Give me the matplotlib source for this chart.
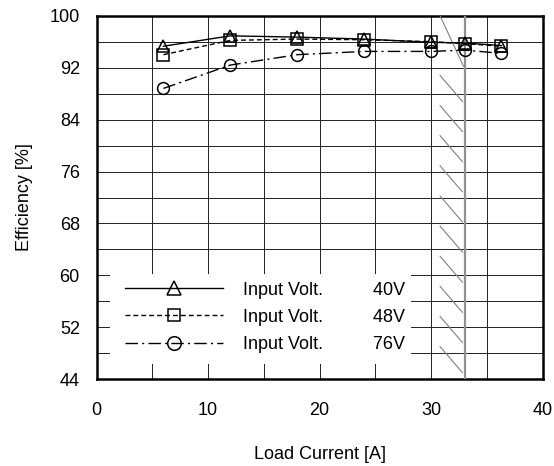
"""Efficiency vs load current for three input voltages."""

import matplotlib
matplotlib.use("Agg")
import matplotlib.pyplot as plt
from matplotlib.patches import Rectangle
import numpy as np

plt.rcParams["font.family"] = ["Liberation Sans", "DejaVu Sans"]
plt.rcParams["font.size"] = 13

# data
load_current = [6, 12, 18, 24, 30, 33, 36.3]
eff_40v = [95.3, 96.9, 96.7, 96.4, 95.9, 95.8, 95.4]
eff_48v = [94.0, 96.2, 96.4, 96.3, 96.0, 95.7, 95.3]
eff_76v = [88.8, 92.4, 94.0, 94.5, 94.5, 94.7, 94.2]
labels = ["Input Volt.          40V", "Input Volt.          48V", "Input Volt.          76V"]
current_limit = 33

fig, ax = plt.subplots(figsize=(5.54, 4.66), dpi=100)
fig.subplots_adjust(left=0.1742, right=0.9796, top=0.9663, bottom=0.186)

ax.set_xlim(0, 40)
ax.set_ylim(44, 100)
ax.set_xticks(np.arange(0, 41, 10))
ax.set_xticks(np.arange(0, 41, 5), minor=True)
ax.set_yticks(np.arange(44, 101, 8))
ax.set_yticks(np.arange(44, 101, 4), minor=True)
ax.grid(which="both", color="#222222", linewidth=0.7, zorder=0)
ax.tick_params(which="both", length=0)
ax.tick_params(axis="x", pad=16)
ax.tick_params(axis="y", pad=12)
for sp in ax.spines.values():
    sp.set_linewidth(1.8)

# current limit line with hatching on the inside
ax.axvline(current_limit, color="#909090", linewidth=1.6, zorder=3)
ax.plot([current_limit - 2.2, current_limit - 0.1], [100, 92.2],
        color="#808080", linewidth=0.8, zorder=3)
for y0 in np.arange(90.8, 46, -4.64):
    ax.plot([current_limit - 2.2, current_limit - 0.2], [y0, y0 - 4.0],
            color="#808080", linewidth=0.8, zorder=3)

mk = dict(markerfacecolor="none", markeredgecolor="black", markeredgewidth=1.1,
          color="black", linewidth=1.0, zorder=5)
ax.plot(load_current, eff_40v, marker="^", markersize=9, linestyle="-", label=labels[0], **mk)
ax.plot(load_current, eff_48v, marker="s", markersize=8, linestyle=(0, (3.5, 2.2)), label=labels[1], **mk)
ax.plot(load_current, eff_76v, marker="o", markersize=8.5, linestyle=(0, (9, 3, 1.5, 3)), label=labels[2], **mk)

# white legend area hiding the grid
ax.add_patch(Rectangle((0.031, 0.041), 0.674, 0.25, transform=ax.transAxes,
                       facecolor="white", edgecolor="none", zorder=4))
leg = ax.legend(loc="upper left", bbox_to_anchor=(0.064, 0.269), frameon=False,
                handlelength=5.45, handletextpad=1.1, labelspacing=0.57,
                borderpad=0, borderaxespad=0, markerscale=1.15)
leg.set_zorder(6)

ax.set_xlabel("Load Current [A]", labelpad=20)
ax.set_ylabel("Efficiency [%]", labelpad=12)

fig.savefig("out.png", dpi=100)
